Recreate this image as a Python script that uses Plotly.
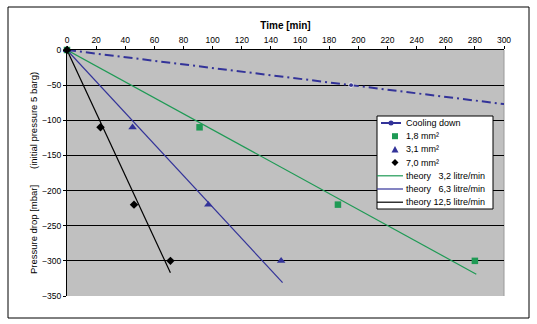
import plotly.graph_objects as go

# Measured pressure drop [mbar] over time [min] for three leak sizes
t_18 = [0, 91, 186, 280]
p_18 = [0, -110, -220, -300]
t_31 = [0, 45, 97, 147]
p_31 = [0, -110, -220, -300]
t_70 = [0, 23, 46, 71]
p_70 = [0, -110, -220, -300]

# Cooling-down reference (trend continues past the last point)
t_cool = [0, 195, 302]
p_cool = [0, -50, -77.5]

# Theoretical drop for three leak flows
t_th32 = [0, 281]
p_th32 = [0, -319]
t_th63 = [0, 148]
p_th63 = [0, -331]
t_th125 = [0, 71]
p_th125 = [0, -317]

x_ticks = list(range(0, 301, 20))
y_ticks = list(range(-350, 1, 50))

NB = "\u00a0"
legend_labels = ["Cooling down", "1,8 mm²", "3,1 mm²", "7,0 mm²",
                 f"theory{NB*3}3,2 litre/min", f"theory{NB*3}6,3 litre/min",
                 "theory 12,5 litre/min"]

GREEN = "#1f9a55"
NAVY = "#333399"
FONT = "Liberation Sans, Arial, sans-serif"

W, H = 537, 324
ML, MR, MT, MB = 67, 33, 50, 28
PW, PH = W - ML - MR, H - MT - MB


def px(x):
    return (x - ML) / PW


def py(y):
    return (H - MB - y) / PH


fig = go.Figure()
fig.add_trace(go.Scatter(x=t_th32, y=p_th32, mode="lines",
                         line=dict(color=GREEN, width=1.2), cliponaxis=False))
fig.add_trace(go.Scatter(x=t_th63, y=p_th63, mode="lines",
                         line=dict(color=NAVY, width=1.2), cliponaxis=False))
fig.add_trace(go.Scatter(x=t_th125, y=p_th125, mode="lines",
                         line=dict(color="black", width=1.2), cliponaxis=False))
fig.add_trace(go.Scatter(x=t_cool, y=p_cool, mode="lines+markers",
                         line=dict(color=NAVY, width=2, dash="9px,4px,2px,4px"),
                         marker=dict(color=NAVY, size=[5, 5, 0], symbol="circle"),
                         cliponaxis=False))
fig.add_trace(go.Scatter(x=t_18, y=p_18, mode="markers",
                         marker=dict(color=GREEN, size=6.5, symbol="square"), cliponaxis=False))
fig.add_trace(go.Scatter(x=t_31, y=p_31, mode="markers",
                         marker=dict(color=NAVY, size=7.5, symbol="triangle-up"), cliponaxis=False))
fig.add_trace(go.Scatter(x=t_70, y=p_70, mode="markers",
                         marker=dict(color="black", size=6.5, symbol="diamond"), cliponaxis=False))

# Compact legend box drawn with shapes and annotations
shapes = [
    # outer frame around the whole chart
    dict(type="rect", xref="paper", yref="paper",
         x0=px(8), x1=px(529), y0=py(318), y1=py(7),
         line=dict(color="black", width=1), layer="below"),
    # thin right edge of the plot area
    dict(type="line", xref="paper", yref="paper", x0=1, x1=1, y0=0, y1=1,
         line=dict(color="#9a9a9a", width=1), layer="below"),
    # legend frame
    dict(type="rect", xref="paper", yref="paper",
         x0=px(377), x1=px(493), y0=py(209), y1=py(116),
         line=dict(color="black", width=1), fillcolor="white", layer="above"),
]
annotations = []
row_y = [123 + 13.2 * i for i in range(len(legend_labels))]
kx = 395  # key symbol centre

for i, (label, yy) in enumerate(zip(legend_labels, row_y)):
    annotations.append(dict(xref="paper", yref="paper", x=px(404), y=py(yy),
                            xanchor="left", yanchor="middle", showarrow=False,
                            text=label, font=dict(size=9, family=FONT, color="black")))

# Cooling down key: line with dot
shapes.append(dict(type="line", xref="paper", yref="paper",
                   x0=px(381), x1=px(401), y0=py(row_y[0]), y1=py(row_y[0]),
                   line=dict(color=NAVY, width=2)))
shapes.append(dict(type="circle", xref="paper", yref="paper",
                   x0=px(388.5), x1=px(393.5), y0=py(row_y[0] + 2.5), y1=py(row_y[0] - 2.5),
                   fillcolor=NAVY, line=dict(color=NAVY, width=0)))
# 1,8 mm² key: square
shapes.append(dict(type="rect", xref="paper", yref="paper",
                   x0=px(kx - 3), x1=px(kx + 3), y0=py(row_y[1] + 3), y1=py(row_y[1] - 3),
                   fillcolor=GREEN, line=dict(color=GREEN, width=0)))
# 3,1 mm² key: triangle
yt = row_y[2]
shapes.append(dict(type="path", xref="paper", yref="paper",
                   path=f"M {px(kx - 3.5)} {py(yt + 3)} L {px(kx + 3.5)} {py(yt + 3)} "
                        f"L {px(kx)} {py(yt - 3.5)} Z",
                   fillcolor=NAVY, line=dict(color=NAVY, width=0)))
# 7,0 mm² key: diamond
yd = row_y[3]
shapes.append(dict(type="path", xref="paper", yref="paper",
                   path=f"M {px(kx - 3.5)} {py(yd)} L {px(kx)} {py(yd - 3.5)} "
                        f"L {px(kx + 3.5)} {py(yd)} L {px(kx)} {py(yd + 3.5)} Z",
                   fillcolor="black", line=dict(color="black", width=0)))
# theory keys: plain lines
for yy, col in zip(row_y[4:], [GREEN, NAVY, "black"]):
    shapes.append(dict(type="line", xref="paper", yref="paper",
                       x0=px(377), x1=px(403), y0=py(yy), y1=py(yy),
                       line=dict(color=col, width=1.2)))

fig.update_layout(
    width=W, height=H,
    margin=dict(l=ML, r=MR, t=MT, b=MB),
    paper_bgcolor="white",
    plot_bgcolor="#c0c0c0",
    font=dict(family=FONT, size=9, color="black"),
    showlegend=False,
    shapes=shapes,
    annotations=annotations,
)

fig.update_xaxes(side="top", range=[0, 300], tickvals=x_ticks,
                 showgrid=False, zeroline=False,
                 showline=True, linecolor="black", linewidth=1,
                 ticks="outside", ticklen=3, tickcolor="black",
                 tickfont=dict(size=8.5),
                 title=dict(text="<b>Time [min]</b>", font=dict(size=10), standoff=3))
fig.update_yaxes(range=[-350, 0], tickvals=y_ticks,
                 showgrid=True, gridcolor="black", gridwidth=1, zeroline=False,
                 showline=True, linecolor="black", linewidth=1,
                 ticks="outside", ticklen=3, tickcolor="black",
                 tickfont=dict(size=8.5),
                 title=dict(text=f"Pressure drop [mbar]{NB*6}(initial pressure 5 barg)",
                            font=dict(size=9.5), standoff=2))

fig.write_html("out.html")
